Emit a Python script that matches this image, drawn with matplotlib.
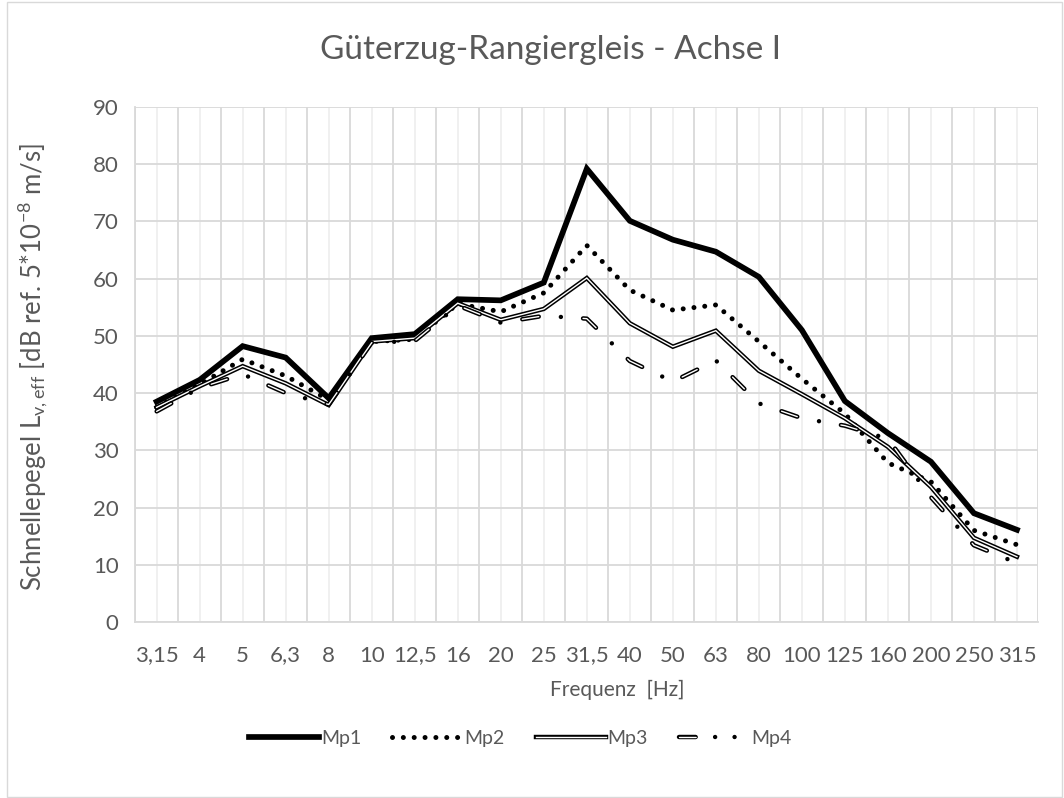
import matplotlib
matplotlib.use("Agg")
import matplotlib.pyplot as plt
from matplotlib.lines import Line2D
from matplotlib.patches import Rectangle
import numpy as np

plt.rcParams['font.family'] = ['Lato', 'DejaVu Sans']
plt.rcParams['mathtext.default'] = 'regular'
plt.rcParams['lines.scale_dashes'] = False

TEXT = '#595959'

freqs = ['3,15', '4', '5', '6,3', '8', '10', '12,5', '16', '20', '25', '31,5',
         '40', '50', '63', '80', '100', '125', '160', '200', '250', '315']

mp1 = [38.5, 42.3, 48.2, 46.2, 39.1, 49.6, 50.3, 56.4, 56.2, 59.3, 79.2,
       70.1, 66.8, 64.7, 60.3, 51.0, 38.6, 33.0, 28.0, 19.0, 16.1]
mp2 = [37.5, 41.5, 45.9, 43.0, 38.8, 49.0, 49.4, 55.6, 54.2, 57.5, 65.8,
       58.0, 54.5, 55.4, 49.0, 42.5, 36.4, 27.8, 24.5, 16.0, 13.5]
mp3 = [37.5, 41.2, 44.7, 41.7, 37.9, 49.0, 49.6, 55.7, 52.8, 54.7, 60.1,
       52.2, 48.1, 50.9, 43.9, 39.8, 35.6, 30.6, 23.6, 14.7, 11.4]
mp4 = [36.8, 40.9, 43.3, 40.0, 38.0, 48.8, 49.1, 55.3, 52.3, 53.5, 53.0,
       45.6, 42.0, 45.7, 38.2, 35.6, 34.3, 32.0, 21.8, 13.4, 10.3]

x = np.arange(len(freqs))

fig = plt.figure(figsize=(10.64, 7.98), dpi=100)
ax = fig.add_axes([0.127, 0.2206, 0.849, 0.6454])

# Mp1: thick solid
l1, = ax.plot(x, mp1, color='black', lw=4.1, solid_joinstyle='miter', zorder=3)
# Mp2: round dots
l2, = ax.plot(x, mp2, color='black', lw=3.6, linestyle=(0, (0.01, 7.8)),
              dash_capstyle='round', zorder=4)
# Mp3: double line
l3a, = ax.plot(x, mp3, color='black', lw=3.2, solid_joinstyle='miter', zorder=5)
l3b, = ax.plot(x, mp3, color='white', lw=1.0, solid_joinstyle='miter', zorder=5.1)
# Mp4: long dash dot, double dashes
ax.plot(x, mp4, color='black', lw=3.2, linestyle=(0, (12, 16, 0.01, 16)),
        dash_capstyle='round', zorder=6)
ax.plot(x, mp4, color='white', lw=1.0, linestyle=(0, (12, 32.01)),
        dash_capstyle='round', zorder=6.1)

# legend sample for Mp4 (dash, dot, dot)
h4a = Line2D([], [], color='black', lw=3.2, linestyle=(0, (12, 14, 0.01, 14, 0.01, 30)),
             dash_capstyle='round')
h4b = Line2D([], [], color='white', lw=1.0, linestyle=(0, (12, 70.02)),
             dash_capstyle='round')

ax.set_xlim(-0.5, len(freqs) - 0.5)
ax.set_ylim(0, 90)
ax.set_yticks(np.arange(0, 91, 10))
ax.set_xticks(x)
ax.set_xticklabels(freqs)
ax.set_xticks(np.arange(-0.5, len(freqs), 1), minor=True)
ax.tick_params(axis='both', which='both', length=0, labelsize=16, colors=TEXT)
ax.tick_params(axis='y', pad=12)
ax.tick_params(axis='x', which='major', pad=17)

# grid
ax.grid(axis='y', color='#d9d9d9', lw=1.3, zorder=0)
ax.grid(axis='x', which='minor', color='#d9d9d9', lw=1.3, zorder=0)
ax.grid(axis='x', which='major', color='#efefef', lw=1.3, zorder=0)
ax.set_axisbelow(True)
for s in ['top', 'right']:
    ax.spines[s].set_visible(False)
ax.spines['left'].set_color('#d9d9d9')
ax.spines['bottom'].set_color('#d9d9d9')
ax.spines['left'].set_linewidth(1.3)
ax.spines['bottom'].set_linewidth(1.3)

fig.text(0.517, 0.937, 'Güterzug-Rangiergleis - Achse I', fontsize=24, color=TEXT,
         ha='center', va='center')
fig.text(0.58, 0.135, 'Frequenz  [Hz]', fontsize=15, color=TEXT,
         ha='center', va='center')
fig.text(0.031, 0.54, r'Schnellepegel L$_{v,eff}$ [dB ref. 5*10$^{-8}$ m/s]',
         fontsize=18.5, color=TEXT, ha='center', va='center', rotation=90)

leg = fig.legend([l1, l2, (l3a, l3b), (h4a, h4b)], ['Mp1', 'Mp2', 'Mp3', 'Mp4'],
                 loc='center', bbox_to_anchor=(0.489, 0.075), ncol=4, frameon=False,
                 fontsize=14, handlelength=3.6, handletextpad=0.1, columnspacing=1.6)
for t in leg.get_texts():
    t.set_color(TEXT)

fig.patches.append(Rectangle((0.007, 0.001), 0.991, 0.997, transform=fig.transFigure,
                             fill=False, edgecolor='#d9d9d9', lw=1.0))

fig.savefig('out.png', dpi=100)
